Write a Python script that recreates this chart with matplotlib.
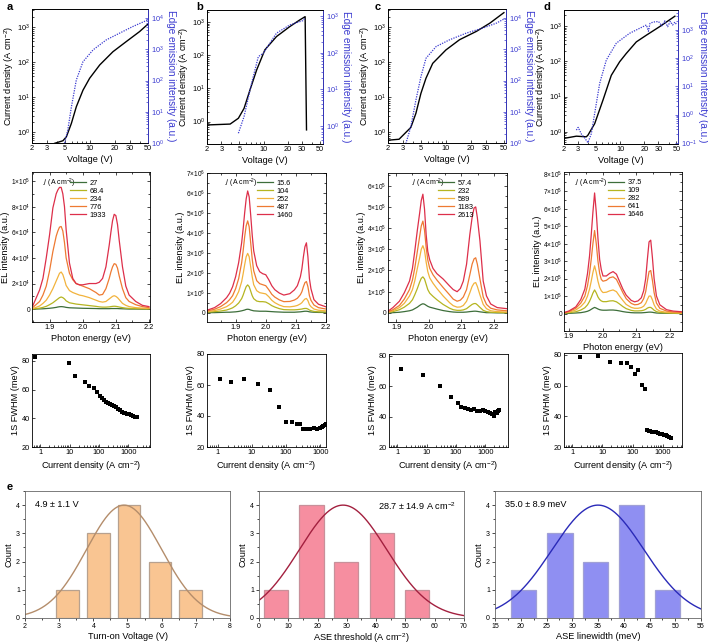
import numpy as np
import matplotlib
matplotlib.use("Agg")
import matplotlib.pyplot as plt
from matplotlib.lines import Line2D
from matplotlib.ticker import FixedLocator, FuncFormatter, AutoMinorLocator, LogLocator, NullFormatter, MultipleLocator

plt.rcParams['font.family'] = ['Liberation Sans', 'DejaVu Sans']
plt.rcParams['mathtext.default'] = 'regular'
plt.rcParams['axes.linewidth'] = 0.6

# ---------------- data: J-V and edge emission (row 1) ----------------
a_jv_V = [3.75, 4.72, 5.19, 5.96, 6.84, 8.23, 9.9, 13.1, 18.9, 27.4, 39.6, 50]
a_jv_J = [0.49, 0.58, 0.75, 1.8, 5.4, 16, 35, 84, 200, 390, 750, 1230]
a_em_V = [4.95, 5.4, 5.96, 6.84, 8.23, 10.9, 15.7, 22.8, 33, 47.7, 50]
a_em_I = [1.0, 2.6, 14, 104, 400, 960, 2000, 3300, 5400, 8300, 8800]

b_jv_V = [2, 3.86, 4.88, 5.73, 6.78, 8.19, 10.35, 14.4, 21, 27.8, 32.5, 33.8]
b_jv_J = [0.79, 0.84, 1.26, 2.5, 9, 36, 147, 370, 740, 1170, 1480, 0.56]
b_em_V = [4.88, 5.73, 7.1, 8.6, 9.9, 11.9, 14.4, 21, 30.5, 32.5]
b_em_I = [0.63, 1.8, 14.6, 78, 96, 180, 340, 570, 750, 900]

c_jv_V = [2, 2.72, 3.77, 4.34, 4.99, 5.74, 6.92, 10, 14.6, 23.3, 33.8, 50]
c_jv_J = [0.6, 0.64, 1.39, 3.5, 13, 35, 93, 225, 440, 760, 1300, 2600]
c_em_V = [3.28, 3.77, 4.34, 4.99, 5.74, 7.62, 11, 17.6, 28, 40.7, 50]
c_em_I = [0.95, 3.3, 23.6, 133, 515, 1230, 2000, 3300, 4800, 6900, 9300]

d_jv_V = [2, 2.85, 3.79, 3.97, 4.82, 6.11, 7.76, 9.86, 11.9, 15.9, 21.2, 31, 48]
d_jv_J = [0.65, 0.75, 0.72, 0.8, 1.7, 7.9, 40, 97, 166, 355, 550, 960, 1900]
d_em_V = [2.85, 3.0, 3.3, 3.6, 3.97, 4.38, 4.82, 5.56, 6.73, 8.96, 13.1, 21.2, 22.5, 23.5,
          25.6, 30, 33, 36, 39, 42, 45, 48, 50]
d_em_I = [0.28, 0.35, 0.2, 0.15, 0.1, 0.21, 1.1, 12.7, 86, 340, 760, 1500, 900, 1700,
          1900, 2000, 1400, 2100, 1300, 2000, 1500, 1900, 1600]

# ---------------- data: EL spectra (row 2) ----------------
a_labels = ['27', '68.4', '234', '776', '1933']
a_E = [1.85, 1.87, 1.88, 1.89, 1.90, 1.91, 1.92, 1.925, 1.93, 1.935, 1.94, 1.945, 1.95, 1.96,
       1.97, 1.98, 1.99, 2.00, 2.02, 2.04, 2.05, 2.06, 2.07, 2.08, 2.085, 2.09, 2.095, 2.10,
       2.105, 2.11, 2.12, 2.13, 2.14, 2.16, 2.18, 2.20]
a_I1 = [0.0, 0.02, 0.03, 0.05, 0.07, 0.1, 0.14, 0.17, 0.19, 0.2, 0.19, 0.17, 0.14, 0.11,
        0.1, 0.09, 0.08, 0.07, 0.06, 0.05, 0.04, 0.04, 0.04, 0.04, 0.05, 0.05, 0.05, 0.05,
        0.05, 0.04, 0.03, 0.02, 0.01, 0.01, 0.0, 0.0]
a_I2 = [0.02, 0.08, 0.14, 0.22, 0.35, 0.5, 0.7, 0.8, 0.9, 0.95, 0.9, 0.8, 0.65, 0.5,
        0.45, 0.4, 0.37, 0.34, 0.28, 0.22, 0.18, 0.16, 0.16, 0.18, 0.2, 0.22, 0.23, 0.22,
        0.2, 0.17, 0.12, 0.08, 0.06, 0.04, 0.03, 0.02]
a_I3 = [0.05, 0.25, 0.45, 0.7, 1.1, 1.6, 2.2, 2.5, 2.8, 2.9, 2.7, 2.3, 1.85, 1.45,
        1.3, 1.2, 1.1, 1.05, 0.9, 0.7, 0.6, 0.55, 0.6, 0.8, 0.9, 1.0, 1.05, 1.0,
        0.9, 0.75, 0.45, 0.3, 0.2, 0.12, 0.08, 0.05]
a_I4 = [0.15, 0.6, 1.1, 1.8, 3.0, 4.5, 5.7, 6.1, 6.4, 6.45, 6.1, 5.2, 4.0, 2.8,
        2.3, 2.0, 1.9, 1.8, 1.6, 1.3, 1.1, 1.15, 1.6, 2.4, 2.9, 3.3, 3.55, 3.5,
        3.2, 2.6, 1.6, 0.9, 0.6, 0.35, 0.2, 0.12]
a_I5 = [0.3, 1.5, 2.4, 4.0, 5.8, 7.9, 9.0, 9.3, 9.5, 9.5, 9.0, 8.0, 6.2, 3.6,
        2.4, 2.0, 1.9, 1.9, 2.0, 2.0, 2.1, 2.4, 3.3, 5.0, 6.0, 6.9, 7.4, 7.3,
        6.6, 5.4, 3.3, 1.8, 1.1, 0.6, 0.3, 0.2]

b_labels = ['15.6', '104', '252', '487', '1460']
b_E = [1.805, 1.83, 1.85, 1.87, 1.88, 1.89, 1.90, 1.91, 1.92, 1.925, 1.93, 1.935, 1.94, 1.945,
       1.95, 1.955, 1.96, 1.97, 1.98, 1.99, 2.0, 2.01, 2.02, 2.03, 2.045, 2.06, 2.08, 2.095,
       2.105, 2.115, 2.12, 2.125, 2.13, 2.135, 2.14, 2.145, 2.15, 2.16, 2.175, 2.2]
b_I1 = [0.0, 0.0, 0.01, 0.02, 0.02, 0.03, 0.04, 0.06, 0.09, 0.11, 0.13, 0.16, 0.17, 0.16,
        0.13, 0.11, 0.09, 0.08, 0.07, 0.07, 0.07, 0.06, 0.05, 0.04, 0.03, 0.02, 0.02, 0.02,
        0.03, 0.04, 0.05, 0.06, 0.07, 0.07, 0.06, 0.04, 0.03, 0.02, 0.01, 0.01]
b_I2 = [0.02, 0.05, 0.08, 0.13, 0.18, 0.24, 0.34, 0.48, 0.7, 0.88, 1.1, 1.3, 1.39, 1.3,
        1.08, 0.85, 0.7, 0.58, 0.55, 0.55, 0.53, 0.45, 0.35, 0.28, 0.2, 0.15, 0.14, 0.14,
        0.15, 0.17, 0.18, 0.2, 0.21, 0.21, 0.18, 0.13, 0.1, 0.06, 0.04, 0.03]
b_I3 = [0.05, 0.1, 0.18, 0.3, 0.4, 0.52, 0.75, 1.05, 1.55, 1.95, 2.4, 2.8, 2.97, 2.8,
        2.3, 1.8, 1.4, 1.1, 1.0, 0.97, 0.94, 0.8, 0.62, 0.5, 0.38, 0.3, 0.29, 0.32,
        0.36, 0.44, 0.5, 0.6, 0.68, 0.71, 0.6, 0.4, 0.3, 0.18, 0.12, 0.09]
b_I4 = [0.08, 0.17, 0.3, 0.5, 0.65, 0.85, 1.2, 1.7, 2.5, 3.1, 3.8, 4.35, 4.6, 4.3,
        3.5, 2.7, 2.1, 1.6, 1.45, 1.4, 1.35, 1.15, 0.92, 0.78, 0.64, 0.55, 0.56, 0.63,
        0.72, 0.9, 1.05, 1.3, 1.5, 1.56, 1.3, 0.85, 0.62, 0.38, 0.25, 0.18]
b_I5 = [0.12, 0.25, 0.45, 0.75, 0.97, 1.3, 1.8, 2.5, 3.5, 4.2, 5.0, 5.7, 6.1, 5.8,
        4.9, 3.9, 3.1, 2.35, 2.05, 1.95, 1.9, 1.65, 1.35, 1.15, 0.98, 0.88, 0.95, 1.14,
        1.35, 1.8, 2.2, 2.8, 3.3, 3.5, 2.8, 1.7, 1.2, 0.65, 0.42, 0.29]

c_labels = ['57.4', '232', '589', '1183', '2613']
c_E = [1.875, 1.89, 1.91, 1.925, 1.941, 1.95, 1.957, 1.965, 1.972, 1.977, 1.982, 1.987, 1.992,
       1.997, 2.003, 2.013, 2.025, 2.044, 2.064, 2.075, 2.087, 2.097, 2.106, 2.116, 2.126,
       2.133, 2.139, 2.144, 2.149, 2.157, 2.167, 2.177, 2.19, 2.21, 2.239]
c_I1 = [0.0, 0.01, 0.03, 0.06, 0.1, 0.14, 0.2, 0.27, 0.35, 0.4, 0.43, 0.41, 0.36,
        0.31, 0.27, 0.23, 0.18, 0.11, 0.06, 0.04, 0.03, 0.03, 0.03, 0.04, 0.06,
        0.07, 0.08, 0.08, 0.07, 0.05, 0.03, 0.01, 0.01, 0.0, 0.0]
c_I2 = [0.02, 0.06, 0.15, 0.27, 0.45, 0.62, 0.85, 1.15, 1.45, 1.63, 1.7, 1.6, 1.35,
        1.1, 0.93, 0.78, 0.62, 0.4, 0.22, 0.15, 0.12, 0.12, 0.14, 0.2, 0.32,
        0.4, 0.44, 0.44, 0.38, 0.26, 0.12, 0.06, 0.03, 0.02, 0.01]
c_I3 = [0.03, 0.1, 0.25, 0.45, 0.8, 1.1, 1.5, 2.1, 2.6, 3.0, 3.17, 2.95, 2.4,
        1.95, 1.65, 1.4, 1.15, 0.8, 0.48, 0.34, 0.27, 0.28, 0.35, 0.55, 0.95,
        1.25, 1.4, 1.43, 1.25, 0.85, 0.4, 0.2, 0.1, 0.06, 0.04]
c_I4 = [0.05, 0.15, 0.35, 0.65, 1.1, 1.55, 2.1, 2.9, 3.6, 4.1, 4.33, 3.9, 3.1,
        2.5, 2.1, 1.8, 1.55, 1.2, 0.85, 0.65, 0.55, 0.6, 0.75, 1.1, 1.8,
        2.3, 2.55, 2.6, 2.3, 1.6, 0.75, 0.4, 0.22, 0.14, 0.1]
c_I5 = [0.08, 0.25, 0.55, 0.95, 1.5, 2.1, 2.9, 3.9, 4.7, 5.3, 5.6, 4.9, 3.7,
        2.9, 2.5, 2.1, 1.85, 1.6, 1.27, 1.1, 1.0, 1.15, 1.5, 2.3, 3.7,
        4.5, 4.95, 5.0, 4.5, 3.4, 1.5, 0.8, 0.42, 0.25, 0.2]

d_labels = ['37.5', '109', '282', '641', '1646']
d_E = [1.885, 1.90, 1.92, 1.935, 1.947, 1.955, 1.961, 1.966, 1.971, 1.976, 1.981, 1.986, 1.991,
       1.996, 2.001, 2.011, 2.021, 2.031, 2.041, 2.05, 2.06, 2.07, 2.085, 2.095, 2.105, 2.115,
       2.122, 2.128, 2.133, 2.138, 2.143, 2.148, 2.153, 2.16, 2.17, 2.19, 2.21, 2.236]
d_I1 = [0.0, 0.01, 0.03, 0.05, 0.09, 0.13, 0.18, 0.24, 0.3, 0.35, 0.31, 0.26, 0.22,
        0.2, 0.19, 0.19, 0.2, 0.2, 0.18, 0.15, 0.11, 0.08, 0.05, 0.04, 0.04, 0.04,
        0.05, 0.06, 0.07, 0.08, 0.08, 0.07, 0.05, 0.03, 0.02, 0.01, 0.01, 0.0]
d_I2 = [0.02, 0.05, 0.1, 0.2, 0.33, 0.5, 0.7, 0.92, 1.17, 1.35, 1.18, 0.95, 0.8,
        0.72, 0.68, 0.68, 0.72, 0.73, 0.67, 0.55, 0.4, 0.28, 0.18, 0.15, 0.15, 0.16,
        0.19, 0.24, 0.31, 0.35, 0.35, 0.28, 0.19, 0.11, 0.06, 0.03, 0.02, 0.01]
d_I3 = [0.03, 0.08, 0.2, 0.4, 0.65, 1.0, 1.4, 1.85, 2.35, 2.73, 2.35, 1.85, 1.5,
        1.3, 1.2, 1.22, 1.3, 1.35, 1.25, 1.0, 0.75, 0.52, 0.35, 0.3, 0.3, 0.34,
        0.42, 0.58, 0.8, 1.0, 1.0, 0.78, 0.5, 0.26, 0.14, 0.07, 0.05, 0.03]
d_I4 = [0.04, 0.12, 0.3, 0.6, 1.0, 1.6, 2.3, 3.1, 4.0, 4.75, 4.0, 3.0, 2.3,
        1.95, 1.85, 1.9, 2.05, 2.1, 1.95, 1.6, 1.2, 0.85, 0.58, 0.5, 0.52, 0.62,
        0.85, 1.25, 1.85, 2.4, 2.46, 1.9, 1.2, 0.6, 0.3, 0.14, 0.09, 0.06]
d_I5 = [0.05, 0.15, 0.38, 0.8, 1.4, 2.3, 3.3, 4.5, 5.8, 6.9, 5.8, 4.3, 3.1,
        2.5, 2.15, 2.15, 2.3, 2.4, 2.25, 1.85, 1.4, 1.05, 0.75, 0.67, 0.72, 0.9,
        1.3, 2.0, 3.1, 4.1, 4.2, 3.2, 2.0, 1.0, 0.5, 0.22, 0.14, 0.1]

# ---------------- data: 1S FWHM (row 3) ----------------
a_fw_J = [0.68, 9.2, 15.5, 32, 46, 65, 85, 110, 130, 150, 175, 200, 235, 275, 320, 370, 430,
          500, 580, 680, 790, 920, 1070, 1250, 1450, 1650, 1800, 1933]
a_fw = [82.7, 78.2, 69.3, 65.0, 62.7, 60.8, 58.0, 55.2, 54.0, 52.5, 51.0, 50.3, 49.8, 49.2,
        48.5, 47.6, 46.5, 45.5, 44.5, 44.0, 43.7, 43.2, 42.8, 42.3, 41.6, 41.2, 41.0, 41.2]
b_fw_J = [1.2, 2.5, 6.1, 15.7, 34, 64, 100, 148, 206, 260, 320, 410, 510, 640, 800, 1000,
          1100, 1250, 1380, 1460]
b_fw = [63.8, 62.1, 63.8, 60.4, 56.7, 45.5, 36.0, 35.9, 35.1, 35.0, 31.9, 31.7, 31.7, 32.0,
        31.7, 32.0, 33.0, 33.5, 34.3, 34.8]
c_fw_J = [1.37, 7.5, 29.3, 69, 117, 150, 200, 260, 330, 420, 520, 650, 800, 980, 1200, 1450,
          1700, 1950, 2200, 2450, 2613, 2900]
c_fw = [71.4, 67.0, 60.0, 52.8, 48.9, 46.5, 45.8, 45.2, 44.5, 45.0, 43.6, 43.6, 44.0, 43.6,
        43.0, 42.5, 41.9, 40.1, 43.0, 42.3, 43.6, 44.0]
d_fw_J = [1.8, 7.0, 18, 41, 65, 90, 123, 150, 210, 265, 300, 340, 390, 450, 520, 600, 700,
          820, 950, 1100, 1280, 1450, 1646, 1850]
d_fw = [78.5, 79.4, 75.6, 74.6, 74.8, 71.9, 67.5, 70.3, 60.4, 58.0, 30.8, 30.4, 30.3, 30.0,
        29.6, 29.5, 29.0, 28.6, 28.3, 27.8, 27.5, 27.0, 26.5, 26.0]

# ---------------- data: histograms (row 4) ----------------
h1_centers = [3.25, 4.15, 5.05, 5.95, 6.85]
h1_counts = [1, 3, 4, 2, 1]
h1_mu, h1_sd = 4.9, 1.1
h2_centers = [5.9, 17.9, 29.8, 41.9, 53.9]
h2_counts = [1, 4, 2, 3, 1]
h2_mu, h2_sd = 28.7, 14.9
h3_centers = [20.5, 27.6, 34.5, 41.5, 48.5]
h3_counts = [1, 3, 2, 4, 1]
h3_mu, h3_sd = 35.0, 8.9

# ---------------- styling ----------------
W, H = 708, 644
fig = plt.figure(figsize=(W / 100, H / 100), dpi=100)
BLUE = '#3a3ad0'
SPEC_COLORS = ['#3d6e3a', '#b5b521', '#f2b33d', '#ee7a32', '#dd2f4a']
TICK_FS = 5.3
LAB_FS = 6.6


def px_axes(l, t, r, b):
    return fig.add_axes([l / W, 1 - b / H, (r - l) / W, (b - t) / H])


def style(ax, direction='in'):
    ax.tick_params(which='both', labelsize=TICK_FS, width=0.5, direction=direction, pad=1.5)
    ax.tick_params(which='major', length=2.2)
    ax.tick_params(which='minor', length=1.2)


def sci(v, pos):
    if abs(v) < 1e-12:
        return '0'
    e = int(np.floor(np.log10(abs(v)) + 1e-9))
    m = v / 10 ** e
    return r'$%g{\times}10^{%d}$' % (round(m, 1), e)


# ---- row 1 ----
row1 = [
    ('a', (32, 9, 148, 143), (2, 50), (0.5, 3300), (1, 19500), [1, 10, 100, 1000, 10000],
     a_jv_V, a_jv_J, a_em_V, a_em_I),
    ('b', (207, 10, 323, 144), (2, 54), (0.21, 2350), (0.32, 1460), [1, 10, 100, 1000],
     b_jv_V, b_jv_J, b_em_V, b_em_I),
    ('c', (388, 9, 506, 143), (2, 53), (0.5, 3300), (1, 19500), [1, 10, 100, 1000, 10000],
     c_jv_V, c_jv_J, c_em_V, c_em_I),
    ('d', (564, 10, 678, 144), (2, 52.5), (0.45, 2850), (0.09, 5100), [0.1, 1, 10, 100, 1000],
     d_jv_V, d_jv_J, d_em_V, d_em_I),
]
letter_x = {'a': 7, 'b': 196, 'c': 375, 'd': 544}
for (lab, box, xl, yl, yr, rticks, jv_V, jv_J, em_V, em_I) in row1:
    ax = px_axes(*box)
    ax.set_xscale('log'); ax.set_yscale('log')
    ax.plot(jv_V, jv_J, color='black', lw=1.0)
    ax.set_xlim(*xl); ax.set_ylim(*yl)
    ax.xaxis.set_major_locator(FixedLocator([2, 3, 5, 10, 20, 30, 50]))
    ax.xaxis.set_major_formatter(FuncFormatter(lambda v, p: '%d' % v))
    ax.xaxis.set_minor_locator(LogLocator(subs=np.arange(2, 10)))
    ax.xaxis.set_minor_formatter(NullFormatter())
    ax.yaxis.set_major_locator(FixedLocator([1, 10, 100, 1000]))
    ax.yaxis.set_major_formatter(FuncFormatter(lambda v, p: r'$10^{%d}$' % round(np.log10(v))))
    ax.yaxis.set_minor_locator(LogLocator(subs=np.arange(2, 10)))
    ax.yaxis.set_minor_formatter(NullFormatter())
    style(ax)
    ax.set_xlabel('Voltage (V)', fontsize=LAB_FS, labelpad=2)
    ax.set_ylabel('Current density (A cm$^{-2}$)', fontsize=LAB_FS, labelpad=1)
    ax2 = ax.twinx()
    ax2.set_yscale('log')
    ax2.plot(em_V, em_I, color=BLUE, lw=0.9, ls=(0, (1, 1)))
    ax2.set_ylim(*yr)
    ax2.yaxis.set_major_locator(FixedLocator(rticks))
    ax2.yaxis.set_major_formatter(FuncFormatter(lambda v, p: r'$10^{%d}$' % round(np.log10(v))))
    ax2.yaxis.set_minor_locator(LogLocator(subs=np.arange(2, 10)))
    ax2.yaxis.set_minor_formatter(NullFormatter())
    style(ax2)
    ax2.tick_params(which='both', colors=BLUE, pad=2.5)
    ax2.spines['right'].set_color(BLUE)
    ax2.set_ylabel('Edge emission intensity (a.u.)', fontsize=LAB_FS + 0.6, color=BLUE,
                   rotation=270, labelpad=8)
    fig.text(letter_x[lab] / W, 1 - 7 / H, lab, fontsize=8, fontweight='bold', va='center')

# ---- row 2 ----
row2 = [
    ((32, 172, 150, 322), (1.847, 2.203), 1e4, (-1.0e4, 1.07e5), np.arange(0, 1.01e5, 2e4),
     a_labels, a_E, [a_I1, a_I2, a_I3, a_I4, a_I5], (0.093, 0.927), (0.32, 0.95)),
    ((207, 173, 326, 322), (1.805, 2.2), 1e6, (-0.47e6, 7.0e6), np.arange(0, 7.01e6, 1e6),
     b_labels, b_E, [b_I1, b_I2, b_I3, b_I4, b_I5], (0.15, 0.933), (0.42, 0.955)),
    ((388, 173, 507, 322), (1.875, 2.24), 1e5, (-0.43e5, 6.6e5), np.arange(0, 6.01e5, 1e5),
     c_labels, c_E, [c_I1, c_I2, c_I3, c_I4, c_I5], (0.2, 0.933), (0.42, 0.955)),
    ((564, 172, 682, 331), (1.885, 2.236), 1e5, (-1.0e5, 8.1e5), np.arange(0, 8.01e5, 1e5),
     d_labels, d_E, [d_I1, d_I2, d_I3, d_I4, d_I5], (0.093, 0.93), (0.373, 0.956)),
]
for (box, xl, unit, yl, yt, labels, E, Is, jpos, lpos) in row2:
    ax = px_axes(*box)
    for I, col in zip(Is, SPEC_COLORS):
        ax.plot(E, np.array(I) * unit, color=col, lw=0.9)
    ax.set_xlim(*xl); ax.set_ylim(*yl)
    ax.xaxis.set_major_locator(FixedLocator([1.9, 2.0, 2.1, 2.2]))
    ax.xaxis.set_major_formatter(FuncFormatter(lambda v, p: '%.1f' % v))
    ax.xaxis.set_minor_locator(MultipleLocator(0.05))
    ax.yaxis.set_major_locator(FixedLocator(yt))
    ax.yaxis.set_major_formatter(FuncFormatter(sci))
    ax.yaxis.set_minor_locator(AutoMinorLocator(2))
    ax.tick_params(top=True, right=True, which='both')
    style(ax)
    ax.tick_params(axis='y', labelsize=4.7, pad=1.2)
    ax.set_xlabel('Photon energy (eV)', fontsize=LAB_FS, labelpad=2)
    ax.set_ylabel('EL intensity (a.u.)', fontsize=LAB_FS, labelpad=1)
    handles = [Line2D([], [], color=c, lw=0.9) for c in SPEC_COLORS]
    ax.legend(handles, labels, loc='upper left', bbox_to_anchor=lpos, frameon=False,
              fontsize=5.3, handlelength=2.2, handletextpad=0.5, labelspacing=0.12,
              borderpad=0, borderaxespad=0)
    ax.text(jpos[0], jpos[1], r'$\it{j}$ (A cm$^{-2}$)', transform=ax.transAxes,
            fontsize=5.0, ha='left', va='center')

# ---- row 3 ----
row3 = [
    ((32, 354, 150, 447), (0.52, 5400), (20, 84.7), a_fw_J, a_fw),
    ((207, 354, 326, 447), (0.49, 1480), (20, 80), b_fw_J, b_fw),
    ((389, 354, 508, 447), (0.52, 5900), (20, 81), c_fw_J, c_fw),
    ((564, 353, 682, 447), (0.53, 4400), (20, 81.3), d_fw_J, d_fw),
]
for (box, xl, yl, J, F) in row3:
    ax = px_axes(*box)
    ax.set_xscale('log')
    ax.plot(J, F, ls='none', marker='s', ms=2.6, color='black', mew=0)
    ax.set_xlim(*xl); ax.set_ylim(*yl)
    ax.xaxis.set_major_locator(FixedLocator([1, 10, 100, 1000]))
    ax.xaxis.set_major_formatter(FuncFormatter(lambda v, p: '%d' % v))
    ax.xaxis.set_minor_locator(LogLocator(subs=np.arange(2, 10)))
    ax.xaxis.set_minor_formatter(NullFormatter())
    ax.yaxis.set_major_locator(FixedLocator([20, 40, 60, 80]))
    style(ax)
    ax.set_xlabel('Current density (A cm$^{-2}$)', fontsize=LAB_FS, labelpad=2)
    ax.set_ylabel('1S FWHM (meV)', fontsize=LAB_FS, labelpad=1)

# ---- row 4 ----
row4 = [
    ((25, 491, 230, 618), (2, 8), 0.66, h1_centers, h1_counts, h1_mu, h1_sd,
     '#f9c592', '#b7a18f', '#b48d6b', 'Turn-on Voltage (V)', '4.9 \u00b1 1.1 V',
     (0.05, 0.93, 'left'), 1, 0.5),
    ((259, 491, 464, 618), (0, 70), 8.3, h2_centers, h2_counts, h2_mu, h2_sd,
     '#f68ea0', '#c8909a', '#a3203f', 'ASE threshold (A cm$^{-2}$)',
     '28.7 \u00b1 14.9 A cm$^{-2}$', (0.96, 0.93, 'right'), 10, 5),
    ((495, 491, 701, 618), (15, 55), 4.9, h3_centers, h3_counts, h3_mu, h3_sd,
     '#8f8ff2', '#a0a0d6', '#2a2ab8', 'ASE linewidth (meV)', '35.0 \u00b1 8.9 meV',
     (0.05, 0.93, 'left'), 5, 2.5),
]
for (box, xl, w, cen, cnt, mu, sd, face, edge, line, xlab, txt, tpos, maj, mnr) in row4:
    ax = px_axes(*box)
    ax.bar(cen, cnt, width=w, color=face, edgecolor=edge, lw=0.9)
    xs = np.linspace(xl[0], xl[1], 400)
    ax.plot(xs, 4 * np.exp(-(xs - mu) ** 2 / (2 * sd ** 2)), color=line, lw=1.0)
    ax.set_xlim(*xl); ax.set_ylim(0, 4.5)
    ax.xaxis.set_major_locator(MultipleLocator(maj))
    ax.xaxis.set_minor_locator(MultipleLocator(mnr))
    ax.yaxis.set_major_locator(MultipleLocator(1))
    ax.yaxis.set_minor_locator(MultipleLocator(0.5))
    style(ax, 'out')
    ax.tick_params(labelsize=5.0)
    ax.set_xlabel(xlab, fontsize=LAB_FS, labelpad=1)
    ax.set_ylabel('Count', fontsize=LAB_FS, labelpad=2)
    ax.text(tpos[0], tpos[1], txt, transform=ax.transAxes, ha=tpos[2], va='top', fontsize=6.6)
    for s in ax.spines.values():
        s.set_color('#666666')

fig.text(7 / W, 1 - 487 / H, 'e', fontsize=8, fontweight='bold', va='center')

fig.savefig('out.png', dpi=100)
